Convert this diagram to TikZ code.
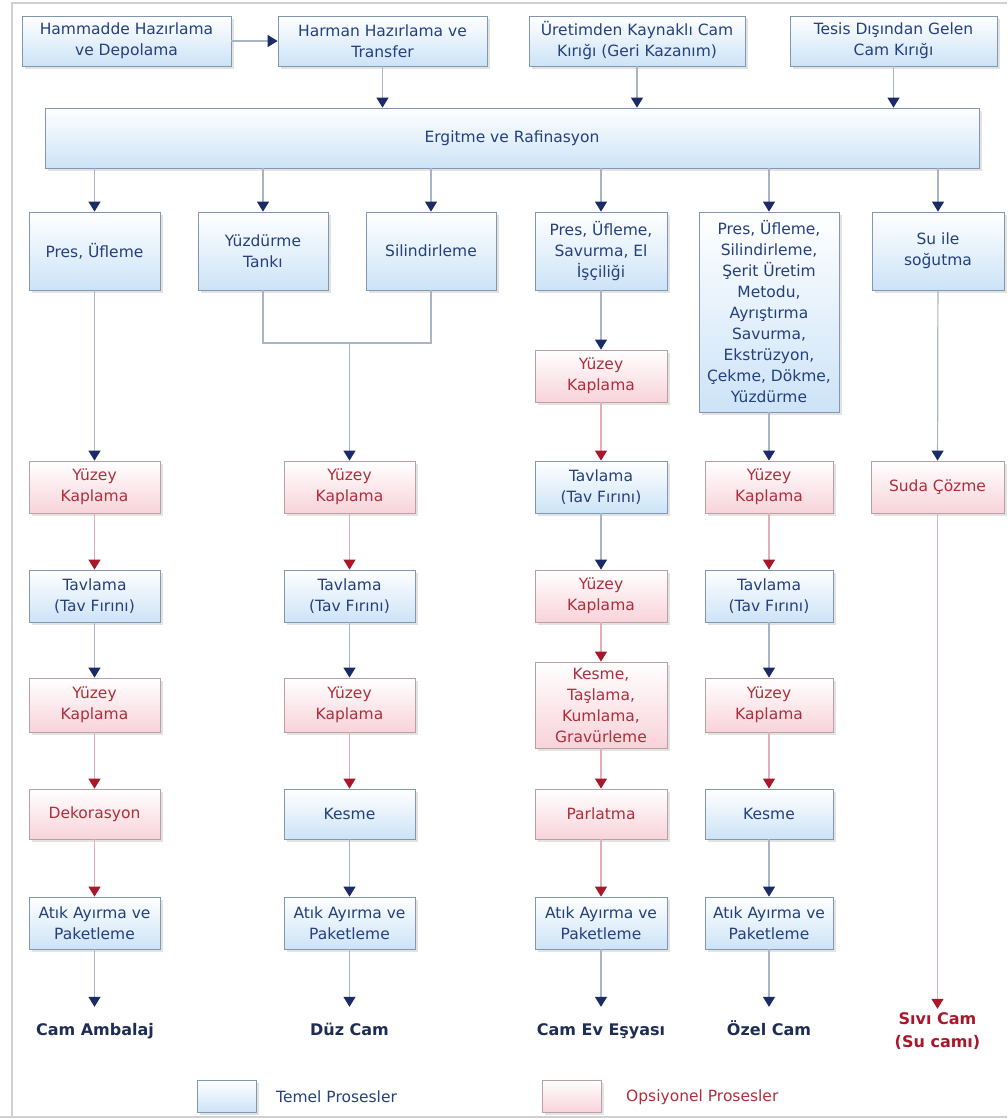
\documentclass[tikz,border=0pt]{standalone}
\usepackage{fontspec}
\setmainfont{DejaVu Sans}
\usetikzlibrary{arrows.meta,shadows}
\definecolor{bfill}{HTML}{CCE3F7}
\definecolor{pfill}{HTML}{F8D3DA}
\definecolor{bdraw}{HTML}{8497B0}
\definecolor{pdraw}{HTML}{B8A0A6}
\definecolor{btext}{HTML}{24407E}
\definecolor{ptext}{HTML}{B02E3A}
\definecolor{navy}{HTML}{1B2B66}
\definecolor{dred}{HTML}{A8182A}
\definecolor{bline}{HTML}{A9B4C6}
\definecolor{pline}{HTML}{E2AEB8}
\definecolor{outb}{HTML}{1E2D55}
\definecolor{frame}{HTML}{D0D0D0}
\begin{document}
\begin{tikzpicture}[x=1pt,y=-1pt,
 box/.style={draw, line width=0.8pt, inner sep=0pt, align=center,
   font=\fontsize{15.5}{21}\selectfont,
   drop shadow={shadow xshift=3pt, shadow yshift=-3pt, opacity=0.22}},
 bb/.style={box, draw=bdraw, top color=white, bottom color=bfill, text=btext},
 pb/.style={box, draw=pdraw, top color=white, bottom color=pfill, text=ptext},
 sz/.style 2 args={minimum width=#1pt, minimum height=#2pt},
 arB/.style={draw=bline, line width=1.2pt, -{Triangle[width=12pt,length=10pt,color=navy]}},
 arR/.style={draw=pline, line width=1.2pt, -{Triangle[width=12pt,length=10pt,color=dred]}},
 lnB/.style={draw=bline, line width=1.2pt},
 outt/.style={font=\fontsize{16}{23}\selectfont\bfseries, align=center, inner sep=0pt},
 out1/.style={outt, text height=12pt, text depth=4pt},
 legt/.style={anchor=west, font=\fontsize{15.5}{21}\selectfont, inner sep=0pt}
]
\useasboundingbox (0,0) rectangle (1007,1119);
% frame
\draw[frame, line width=1.5pt] (1007,3) -- (12,3) -- (12,1117);
\draw[frame, line width=1.5pt] (0,1117) -- (1007,1117);

% top row
\node[bb,sz={209}{50}] (A) at (126.5,41) {Hammadde Hazırlama\\ve Depolama};
\node[bb,sz={209}{50}] (B) at (382.5,41) {Harman Hazırlama ve\\Transfer};
\node[bb,sz={216}{50}] (C) at (637,41) {Üretimden Kaynaklı Cam\\Kırığı (Geri Kazanım)};
\node[bb,sz={207}{50}] (D) at (893.5,41) {Tesis Dışından Gelen\\Cam Kırığı};
\node[bb,sz={934}{60}] (E) at (512,138) {Ergitme ve Rafinasyon};

% row 2
\node[bb,sz={131}{78}] (P1) at (94.5,251) {Pres, Üfleme};
\node[bb,sz={130}{78}] (Y) at (263,251) {Yüzdürme\\Tankı};
\node[bb,sz={130}{78}] (S) at (431,251) {Silindirleme};
\node[bb,sz={132}{78}] (P3) at (601,251) {Pres, Üfleme,\\Savurma, El\\İşçiliği};
\node[bb,sz={140}{200}] (G) at (769,312) {Pres, Üfleme,\\Silindirleme,\\Şerit Üretim\\Metodu,\\Ayrıştırma\\Savurma,\\Ekstrüzyon,\\Çekme, Dökme,\\Yüzdürme};
\node[bb,sz={132}{78}] (Su) at (938,251) {Su ile\\soğutma};

\node[pb,sz={132}{52}] (c3a) at (601,376) {Yüzey\\Kaplama};

% row 3
\node[pb,sz={131}{52}] (c1a) at (94.5,487) {Yüzey\\Kaplama};
\node[pb,sz={131}{52}] (c2a) at (349.5,487) {Yüzey\\Kaplama};
\node[bb,sz={132}{52}] (c3b) at (601,487) {Tavlama\\(Tav Fırını)};
\node[pb,sz={128}{52}] (c4a) at (769,487) {Yüzey\\Kaplama};
\node[pb,sz={133}{52}] (c5a) at (937.5,487) {Suda Çözme};

% row 4
\node[bb,sz={131}{52}] (c1b) at (94.5,596) {Tavlama\\(Tav Fırını)};
\node[bb,sz={131}{52}] (c2b) at (349.5,596) {Tavlama\\(Tav Fırını)};
\node[pb,sz={132}{52}] (c3c) at (601,596) {Yüzey\\Kaplama};
\node[bb,sz={128}{52}] (c4b) at (769,596) {Tavlama\\(Tav Fırını)};

% row 5
\node[pb,sz={131}{54}] (c1c) at (94.5,705) {Yüzey\\Kaplama};
\node[pb,sz={131}{54}] (c2c) at (349.5,705) {Yüzey\\Kaplama};
\node[pb,sz={132}{86}] (c3d) at (601,705) {Kesme,\\Taşlama,\\Kumlama,\\Gravürleme};
\node[pb,sz={128}{54}] (c4c) at (769,705) {Yüzey\\Kaplama};

% row 6
\node[pb,sz={131}{50}] (c1d) at (94.5,814) {Dekorasyon};
\node[bb,sz={131}{50}] (c2d) at (349.5,814) {Kesme};
\node[pb,sz={132}{50}] (c3e) at (601,814) {Parlatma};
\node[bb,sz={128}{50}] (c4d) at (769,814) {Kesme};

% row 7
\node[bb,sz={131}{52}] (c1e) at (94.5,923) {Atık Ayırma ve\\Paketleme};
\node[bb,sz={131}{52}] (c2e) at (349.5,923) {Atık Ayırma ve\\Paketleme};
\node[bb,sz={132}{52}] (c3f) at (601,923) {Atık Ayırma ve\\Paketleme};
\node[bb,sz={128}{52}] (c4e) at (769,923) {Atık Ayırma ve\\Paketleme};

% outputs
\node[out1,text=outb] (o1) at (95,1031) {Cam Ambalaj};
\node[out1,text=outb] (o2) at (349.5,1031) {Düz Cam};
\node[out1,text=outb] (o3) at (601,1031) {Cam Ev Eşyası};
\node[out1,text=outb] (o4) at (769,1031) {Özel Cam};
\node[outt,text=dred] (o5) at (937.5,1031.5) {Sıvı Cam\\(Su camı)};

% legend
\node[bb,sz={59}{32}] (L1) at (226.5,1096) {};
\node[legt,text=btext] (L1t) at (276,1097) {Temel Prosesler};
\node[pb,sz={59}{32}] (L2) at (571.5,1096) {};
\node[legt,text=ptext] (L2t) at (626,1097) {Opsiyonel Prosesler};

% connectors: top
\draw[arB] (A.east) -- (B.west);
\draw[arB] (B.south) -- (B.south |- E.north);
\draw[arB] (C.south) -- (C.south |- E.north);
\draw[arB] (D.south) -- (D.south |- E.north);
\foreach \n in {P1,Y,S,P3,G,Su}
  \draw[arB] (\n.north |- E.south) -- (\n.north);

% merge
\coordinate (m) at (349.5,343);
\draw[lnB] (Y.south) |- (m) -| (S.south);
\draw[arB] (m) -- (c2a.north);

\draw[arB] (P1) -- (c1a);
\draw[arB] (P3) -- (c3a);
\draw[arB] (G) -- (c4a);
\draw[arB] (Su) -- (c5a);

% column 1
\draw[arR] (c1a) -- (c1b);
\draw[arB] (c1b) -- (c1c);
\draw[arR] (c1c) -- (c1d);
\draw[arR] (c1d) -- (c1e);
\draw[arB, shorten >=16pt] (c1e.south) -- (o1.north -| c1e.south);
% column 2
\draw[arR] (c2a) -- (c2b);
\draw[arB] (c2b) -- (c2c);
\draw[arR] (c2c) -- (c2d);
\draw[arB] (c2d) -- (c2e);
\draw[arB, shorten >=16pt] (c2e.south) -- (o2.north);
% column 3
\draw[arR] (c3a) -- (c3b);
\draw[arB] (c3b) -- (c3c);
\draw[arR] (c3c) -- (c3d);
\draw[arR] (c3d) -- (c3e);
\draw[arR] (c3e) -- (c3f);
\draw[arB, shorten >=16pt] (c3f.south) -- (o3.north);
% column 4
\draw[arR] (c4a) -- (c4b);
\draw[arB] (c4b) -- (c4c);
\draw[arR] (c4c) -- (c4d);
\draw[arB] (c4d) -- (c4e);
\draw[arB, shorten >=16pt] (c4e.south) -- (o4.north);
% column 5
\draw[arR, shorten >=4pt] (c5a.south) -- (o5.north);
\end{tikzpicture}
\end{document}
